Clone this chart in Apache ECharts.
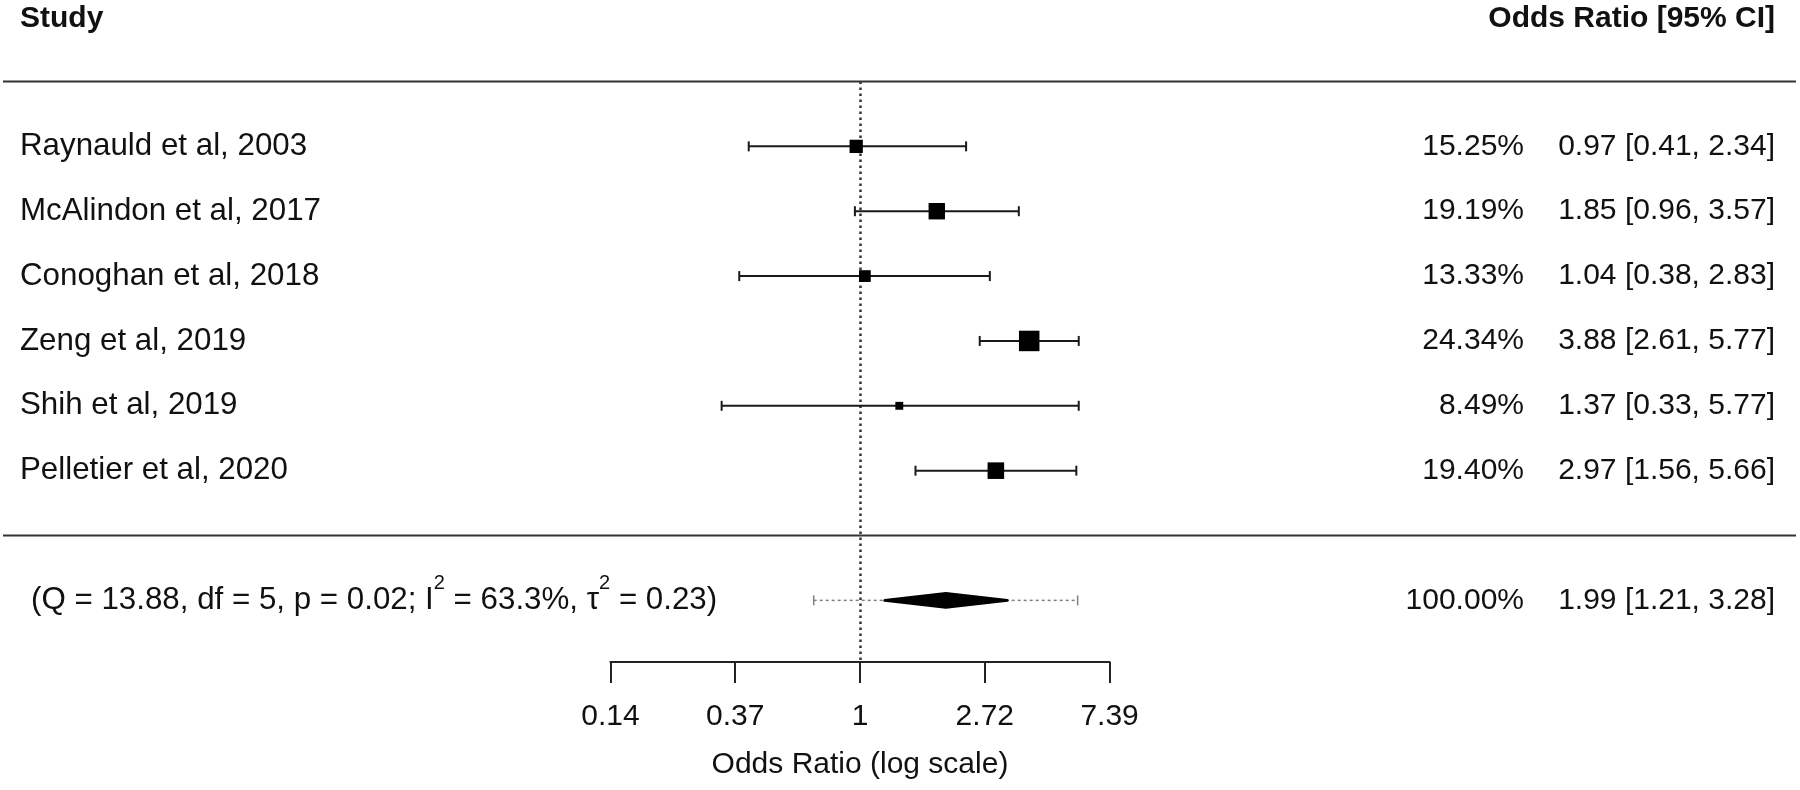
<!DOCTYPE html>
<html><head><meta charset="utf-8">
<script src="https://cdn.jsdelivr.net/npm/echarts@6/dist/echarts.min.js"></script>
<style>html,body{margin:0;padding:0;background:#fff}#c{width:1800px;height:790px}</style>
</head><body><div id="c"></div>
<script>
// ---- data ----
const studies = ['Raynauld et al, 2003','McAlindon et al, 2017','Conoghan et al, 2018','Zeng et al, 2019','Shih et al, 2019','Pelletier et al, 2020'];
const oddsRatio = [0.97, 1.85, 1.04, 3.88, 1.37, 2.97];
const ciLower   = [0.41, 0.96, 0.38, 2.61, 0.33, 1.56];
const ciUpper   = [2.34, 3.57, 2.83, 5.77, 5.77, 5.66];
const weights   = [15.25, 19.19, 13.33, 24.34, 8.49, 19.40];
const summaryOR = 1.99, summaryLower = 1.21, summaryUpper = 3.28, summaryWeight = 100;
const predLower = 0.69, predUpper = 5.72;
const hetQ = '13.88', hetDf = '5', hetP = '0.02', hetI2 = '63.3', hetTau2 = '0.23';
const tickLabels = ['0.14', '0.37', '1', '2.72', '7.39'];
const axisTitle = 'Odds Ratio (log scale)';
const headerLeft = 'Study', headerRight = 'Odds Ratio [95% CI]';

// ---- layout ----
const FONT = '"Liberation Sans", Arial, sans-serif';
const FS = 30;
const FS_LEFT = 31.3;
const TXT = '#111';
const COL_NAME_X = 20, COL_PCT_X = 1524, COL_CI_X = 1775;
const summaryRow = 7, separatorRows = [-1, 6];
const wMin = Math.min(...weights), wMax = Math.max(...weights);
const f2 = v => v.toFixed(2);

const studyData = studies.map((s, i) => [Math.log(oddsRatio[i]), Math.log(ciLower[i]), Math.log(ciUpper[i]), weights[i], i]);
const summaryData = [[Math.log(summaryOR), Math.log(summaryLower), Math.log(summaryUpper), Math.log(predLower), Math.log(predUpper), summaryRow]];

function txt(x, y, text, align, size) {
  return {type: 'text', x: x, y: y, style: {text: text, fill: TXT, font: (size || FS) + 'px ' + FONT, align: align, verticalAlign: 'middle'}};
}

function renderStudy(params, api) {
  const i = params.dataIndex;
  const k = api.value(4);
  const pOR = api.coord([api.value(0), k]);
  const pLo = api.coord([api.value(1), k]);
  const pHi = api.coord([api.value(2), k]);
  const y = pOR[1];
  const w = api.value(3);
  const cex = 0.5 + (w - wMin) / (wMax - wMin);
  const s = 1.6 + 12.6 * cex;
  const ls = {stroke: '#1a1a1a', lineWidth: 2};
  return {type: 'group', children: [
    {type: 'line', shape: {x1: pLo[0], y1: y, x2: pHi[0], y2: y}, style: ls},
    {type: 'line', shape: {x1: pLo[0], y1: y - 5, x2: pLo[0], y2: y + 5}, style: ls},
    {type: 'line', shape: {x1: pHi[0], y1: y - 5, x2: pHi[0], y2: y + 5}, style: ls},
    {type: 'rect', shape: {x: pOR[0] - s / 2, y: y - s / 2, width: s, height: s}, style: {fill: '#000'}},
    txt(COL_NAME_X, y, studies[i], 'left', FS_LEFT),
    txt(COL_PCT_X, y, f2(weights[i]) + '%', 'right'),
    txt(COL_CI_X, y, f2(oddsRatio[i]) + ' [' + f2(ciLower[i]) + ', ' + f2(ciUpper[i]) + ']', 'right')
  ]};
}

function renderSummary(params, api) {
  const k = api.value(5);
  const pOR = api.coord([api.value(0), k]);
  const pLo = api.coord([api.value(1), k]);
  const pHi = api.coord([api.value(2), k]);
  const qLo = api.coord([api.value(3), k]);
  const qHi = api.coord([api.value(4), k]);
  const y = pOR[1];
  const gs = {stroke: '#808080', lineWidth: 1.5};
  return {type: 'group', children: [
    {type: 'line', shape: {x1: qLo[0], y1: y, x2: qHi[0], y2: y}, style: {stroke: '#808080', lineWidth: 1.5, lineDash: [3, 3]}},
    {type: 'line', shape: {x1: qLo[0], y1: y - 5, x2: qLo[0], y2: y + 5}, style: gs},
    {type: 'line', shape: {x1: qHi[0], y1: y - 5, x2: qHi[0], y2: y + 5}, style: gs},
    {type: 'polygon', shape: {points: [[pLo[0] + 1, y], [pOR[0], y - 7], [pHi[0] - 1, y], [pOR[0], y + 7]]}, style: {fill: '#000', stroke: '#000', lineWidth: 3, lineJoin: 'round'}},
    {type: 'text', x: 31, y: y, style: {
      text: '{m|(Q = ' + hetQ + ', df = ' + hetDf + ', p = ' + hetP + '; I}{s|2}{m| = ' + hetI2 + '%, \u03C4}{s|2}{m| = ' + hetTau2 + ')}',
      align: 'left', verticalAlign: 'middle',
      rich: {
        m: {fontSize: FS_LEFT, fontFamily: FONT, fill: TXT, color: TXT, lineHeight: 54},
        s: {fontSize: 20, fontFamily: FONT, fill: TXT, color: TXT, verticalAlign: 'top', lineHeight: 20}
      }
    }},
    txt(COL_PCT_X, y, f2(summaryWeight) + '%', 'right'),
    txt(COL_CI_X, y, f2(summaryOR) + ' [' + f2(summaryLower) + ', ' + f2(summaryUpper) + ']', 'right')
  ]};
}

function renderSeparator(params, api) {
  const y = api.coord([0, api.value(0)])[1];
  return {type: 'line', shape: {x1: 3, y1: y, x2: 1796, y2: y}, style: {stroke: '#333', lineWidth: 2}};
}

const chart = echarts.init(document.getElementById('c'), null, {renderer: 'canvas'});
chart.setOption({
  animation: false,
  backgroundColor: '#fff',
  grid: {left: 610.4, right: 690.4, top: 81.5, bottom: 128, containLabel: false},
  xAxis: {
    type: 'value', min: -2, max: 2, interval: 1,
    axisLine: {show: true, onZero: false, lineStyle: {color: '#222', width: 2}},
    axisTick: {show: true, length: 21, lineStyle: {color: '#222', width: 2}},
    axisLabel: {formatter: v => tickLabels[Math.round(v + 2)], fontSize: FS, fontFamily: FONT, color: TXT, margin: 40},
    splitLine: {show: false},
    name: axisTitle, nameLocation: 'middle', nameGap: 88,
    nameTextStyle: {fontSize: FS, fontFamily: FONT, color: TXT}
  },
  yAxis: {type: 'value', inverse: true, min: -1, max: 7.95, show: false},
  graphic: [
    {type: 'text', x: 20, y: 19, style: {text: headerLeft, font: 'bold ' + FS + 'px ' + FONT, fill: TXT, align: 'left', verticalAlign: 'middle'}},
    {type: 'text', x: COL_CI_X, y: 19, style: {text: headerRight, font: 'bold ' + FS + 'px ' + FONT, fill: TXT, align: 'right', verticalAlign: 'middle'}}
  ],
  series: [
    {type: 'custom', name: 'separators', clip: false, silent: true, data: separatorRows.map(r => [r]), encode: {y: 0}, renderItem: renderSeparator, z: 1},
    {type: 'custom', name: 'studies', clip: false, silent: true, data: studyData, encode: {x: [0, 1, 2], y: 4}, renderItem: renderStudy, z: 3,
      markLine: {silent: true, symbol: ['none', 'none'], label: {show: false}, z: 2,
        lineStyle: {color: '#333', width: 2.5, type: [2.5, 3.5]}, data: [{xAxis: 0}]}},
    {type: 'custom', name: 'summary', clip: false, silent: true, data: summaryData, encode: {x: [0, 1, 2, 3, 4], y: 5}, renderItem: renderSummary, z: 3}
  ]
});
</script></body></html>
